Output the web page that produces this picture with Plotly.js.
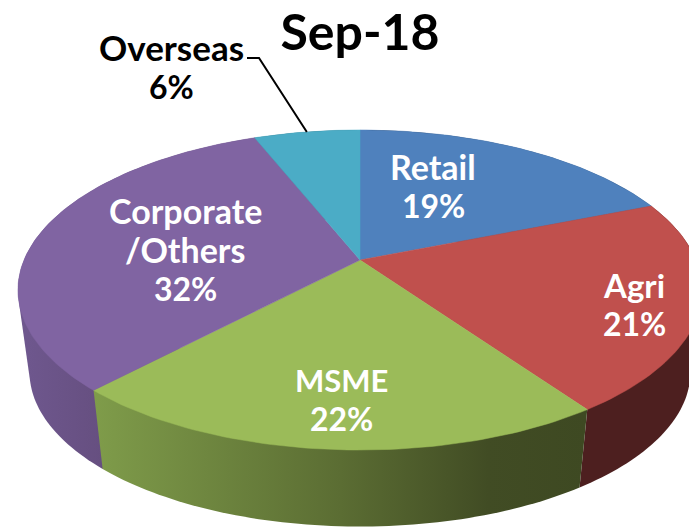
<!DOCTYPE html>
<html>
<head>
<meta charset="utf-8">
<script src="https://cdn.plot.ly/plotly-3.0.1.min.js"></script>
<style>html,body{margin:0;padding:0;background:#fff;overflow:hidden}</style>
</head>
<body>
<div id="chart" style="width:689px;height:528px"></div>
<script>
const categories = ["Retail", "Agri", "MSME", "Corporate<br>/Others", "Overseas"];
const shares = [18.9, 21.4, 21.7, 32, 6];
const chartTitle = "Sep-18";

// Styles
const topColors = ["#4F81BD", "#C0504D", "#9BBB59", "#8064A2", "#4BACC6"];
const sideScales = [
  [[0, "#2c4a70"], [1, "#2c4a70"]],
  [[0, "#4d1f1f"], [1, "#4d1f1f"]],
  [[0, "#7f9c4a"], [0.5, "#5b6d33"], [0.8, "#414c24"], [1, "#3e4922"]],
  [[0, "#6f588f"], [0.35, "#664f80"], [1, "#664f80"]],
  [[0, "#2e6b7b"], [1, "#2e6b7b"]]
];
const sideOrder = [3, 4, 0, 1, 2];
const labelSpots = [[433, 185.5], [634, 304], [341, 399], [185, 249.5], [171, 66.5]];
const labelColors = ["#fff", "#fff", "#fff", "#fff", "#000"];
const nameSizes = [34, 33, 31, 34, 35];
const percentSize = 32;
const lineStep = 39;

// Tilted-disc projection (a circle seen in perspective)
const FONT = "Lato, 'Open Sans', sans-serif";
const disc = {cx: 360, cy: 260, rx: 336, ry: 154.4, p: 0.1875};
const base = {cx: 360, cy: 343, scale: 0.966};

function project(frac, where) {
  const t = frac * 2 * Math.PI, u = Math.sin(t), v = Math.cos(t), d = 1 + disc.p * v;
  const s = where === "base" ? base.scale : 1;
  const cy = where === "base" ? base.cy : disc.cy;
  return [disc.cx + s * disc.rx * u / d, cy - s * disc.ry * v / d];
}
function arc(f0, f1, where) {
  const n = Math.max(8, Math.ceil((f1 - f0) * 300)), pts = [];
  for (let i = 0; i <= n; i++) pts.push(project(f0 + (f1 - f0) * i / n, where));
  return pts;
}
function hull(points) {
  const p = points.slice().sort((a, b) => a[0] - b[0] || a[1] - b[1]);
  const cross = (o, a, b) => (a[0] - o[0]) * (b[1] - o[1]) - (a[1] - o[1]) * (b[0] - o[0]);
  const half = list => {
    const h = [];
    for (const q of list) {
      while (h.length >= 2 && cross(h[h.length - 2], h[h.length - 1], q) <= 0) h.pop();
      h.push(q);
    }
    h.pop();
    return h;
  };
  const out = half(p).concat(half(p.slice().reverse()));
  out.push(out[0]);
  return out;
}

const total = shares.reduce((a, b) => a + b, 0);
let acc = 0;
const spans = shares.map(v => { const s = [acc / total, (acc + v) / total]; acc += v; return s; });

const sideTraces = sideOrder.map(i => {
  const sp = spans[i];
  const pts = hull(arc(sp[0], sp[1], "top").concat(arc(sp[0], sp[1], "base")));
  return {
    type: "scatter", mode: "lines", name: categories[i] + " side",
    x: pts.map(p => p[0]), y: pts.map(p => p[1]),
    fill: "toself", line: {width: 0, simplify: false}, hoverinfo: "skip",
    fillgradient: {type: "horizontal", colorscale: sideScales[i]}
  };
});
const topTraces = spans.map((sp, i) => {
  const pts = [[disc.cx, disc.cy]].concat(arc(sp[0], sp[1], "top"));
  pts.push([disc.cx, disc.cy]);
  return {
    type: "scatter", mode: "lines", name: categories[i].replace("<br>", " "),
    x: pts.map(p => p[0]), y: pts.map(p => p[1]),
    fill: "toself", fillcolor: topColors[i],
    line: {width: 0.5, color: topColors[i]},
    text: categories[i].replace("<br>", " ") + ": " + Math.round(shares[i]) + "%", hoverinfo: "text"
  };
});

// Leader from the Overseas label to the middle of its slice edge
const osIdx = categories.indexOf("Overseas");
const osMid = project((spans[osIdx][0] + spans[osIdx][1]) / 2, "top");
const leader = {
  type: "scatter", mode: "lines", name: "leader", hoverinfo: "skip",
  x: [247, 259, osMid[0]], y: [58, 58, osMid[1]],
  line: {color: "#000", width: 2}
};

const annotations = [];
categories.forEach((c, i) => {
  const lines = c.split("<br>").concat([Math.round(shares[i]) + "%"]);
  lines.forEach((t, k) => annotations.push({
    x: labelSpots[i][0], y: labelSpots[i][1] + (k - (lines.length - 1) / 2) * lineStep,
    xref: "x", yref: "y", text: "<b>" + t + "</b>", showarrow: false,
    xanchor: "center", yanchor: "middle", align: "center",
    font: {family: FONT, size: k === lines.length - 1 ? percentSize : nameSizes[i], color: labelColors[i]}
  }));
});

const layout = {
  width: 689, height: 528,
  margin: {l: 0, r: 0, t: 0, b: 0},
  paper_bgcolor: "#fff", plot_bgcolor: "#fff",
  showlegend: false,
  title: {text: "<b>" + chartTitle + "</b>", x: 360 / 689, xanchor: "center",
          y: 1 - 32 / 528, yanchor: "middle",
          font: {family: FONT, size: 50, color: "#000"}},
  xaxis: {range: [0, 689], visible: false, fixedrange: true},
  yaxis: {range: [528, 0], visible: false, fixedrange: true},
  annotations
};
Plotly.newPlot("chart", sideTraces.concat(topTraces, [leader]), layout, {displayModeBar: false, staticPlot: true});
</script>
</body>
</html>
